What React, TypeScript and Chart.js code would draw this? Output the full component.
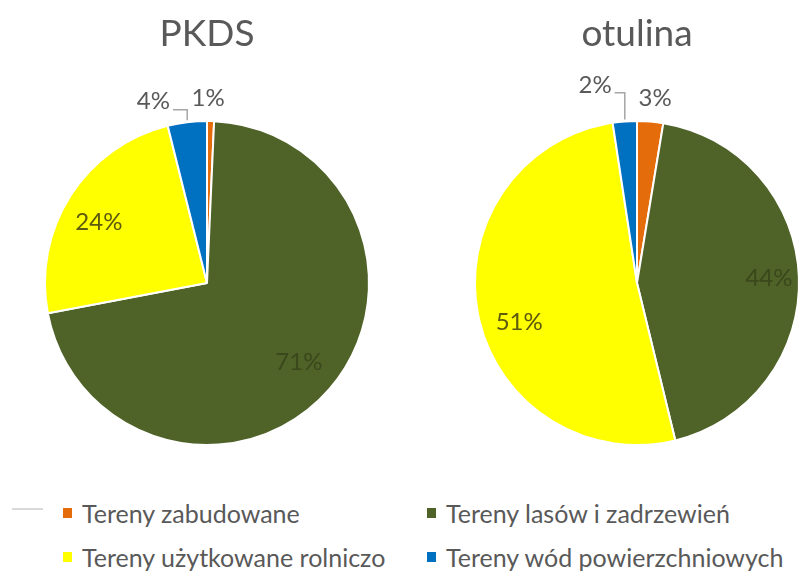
import React, { useEffect, useRef } from 'react';
import { Chart, registerables } from 'chart.js';
Chart.register(...registerables);

const categories = [
  'Tereny zabudowane',
  'Tereny lasów i zadrzewień',
  'Tereny użytkowane rolniczo',
  'Tereny wód powierzchniowych',
];
const pkdsValues = [0.7, 71.3, 24.1, 3.9];
const otulinaValues = [2.6, 43.6, 51.4, 2.4];
const sliceColors = ['#E46C0A', '#4F6228', '#FFFF00', '#0070C0'];
const titles = ['PKDS', 'otulina'];

const FONT = 'Lato, "Open Sans", sans-serif';
const GREY = '#595959';

type Place = { r: number; dx: number; dy: number; color: string; leader?: boolean };

const pkdsPlaces: Place[] = [
  { r: 1.14, dx: -3, dy: 0, color: GREY },
  { r: 0.75, dx: 0, dy: 0, color: '#3a481c' },
  { r: 0.77, dx: -3, dy: 6, color: '#5c5a0e' },
  { r: 1.14, dx: -31, dy: 2, color: GREY, leader: true },
];
const otulinaPlaces: Place[] = [
  { r: 1.14, dx: 3, dy: -1, color: GREY },
  { r: 0.815, dx: 0, dy: 0, color: '#3a481c' },
  { r: 0.76, dx: 3, dy: 15, color: '#5c5a0e' },
  { r: 1.14, dx: -28, dy: -14, color: GREY, leader: true },
];

const labelPlugin = {
  id: 'sliceLabels',
  afterDatasetsDraw(chart: any, _args: any, opts: any) {
    const places: Place[] = opts.places || [];
    const meta = chart.getDatasetMeta(0);
    const data = chart.data.datasets[0].data as number[];
    const ctx = chart.ctx as CanvasRenderingContext2D;
    meta.data.forEach((arc: any, i: number) => {
      const p = places[i];
      if (!p) return;
      const { x, y, startAngle, endAngle, outerRadius } = arc.getProps(
        ['x', 'y', 'startAngle', 'endAngle', 'outerRadius'],
        true
      );
      const mid = (startAngle + endAngle) / 2;
      const text = Math.round(data[i]) + '%';
      const lx = x + Math.cos(mid) * outerRadius * p.r + p.dx;
      const ly = y + Math.sin(mid) * outerRadius * p.r + p.dy;
      ctx.save();
      ctx.font = `24px ${FONT}`;
      ctx.fillStyle = p.color;
      ctx.textAlign = 'center';
      ctx.textBaseline = 'middle';
      ctx.fillText(text, lx, ly);
      if (p.leader) {
        const w = ctx.measureText(text).width;
        const ex = x + Math.cos(mid) * outerRadius;
        const ey = y + Math.sin(mid) * outerRadius;
        const sx = lx + w / 2 + 3;
        const sy = ly + 8;
        ctx.strokeStyle = '#a6a6a6';
        ctx.lineWidth = 1.5;
        ctx.beginPath();
        ctx.moveTo(sx, sy);
        ctx.lineTo(ex, sy);
        ctx.lineTo(ex, ey - 2);
        ctx.stroke();
      }
      ctx.restore();
    });
  },
};

function PieChart({ title, values, places, left }: { title: string; values: number[]; places: Place[]; left: number }) {
  const ref = useRef<HTMLCanvasElement>(null);
  useEffect(() => {
    if (!ref.current) return;
    const chart = new Chart(ref.current, {
      type: 'pie',
      data: {
        labels: categories,
        datasets: [
          {
            data: values,
            backgroundColor: sliceColors,
            borderColor: '#ffffff',
            borderWidth: 2,
          },
        ],
      },
      options: {
        responsive: false,
        animation: false,
        layout: { padding: { top: 0, bottom: 14, left: 44, right: 44 } },
        plugins: {
          legend: { display: false },
          tooltip: { enabled: false },
          title: {
            display: true,
            text: title,
            color: GREY,
            font: { family: FONT, size: 37, weight: 'normal' },
            padding: { top: 12, bottom: 63.6 },
          },
          sliceLabels: { places },
        } as any,
      },
      plugins: [labelPlugin],
    });
    return () => chart.destroy();
  }, []);
  return (
    <canvas
      ref={ref}
      width={414}
      height={460}
      style={{ position: 'absolute', left, top: 0, width: 414, height: 460 }}
    />
  );
}

const legendCols = [63, 427];
const legendRows = [513, 557];

export default function App() {
  return (
    <div
      style={{
        position: 'fixed',
        left: 0,
        top: 0,
        width: 802,
        height: 576,
        background: '#ffffff',
        overflow: 'hidden',
        fontFamily: FONT,
      }}
    >
      <PieChart title={titles[0]} values={pkdsValues} places={pkdsPlaces} left={0} />
      <PieChart title={titles[1]} values={otulinaValues} places={otulinaPlaces} left={430} />
      <div style={{ position: 'absolute', left: 12, top: 508, width: 31, height: 2, background: '#d9d9d9' }} />
      {categories.map((c, i) => {
        const x = legendCols[i % 2];
        const y = legendRows[Math.floor(i / 2)];
        return (
          <React.Fragment key={c}>
            <div
              style={{
                position: 'absolute',
                left: x,
                top: y - 5,
                width: 9,
                height: 10,
                background: sliceColors[i],
              }}
            />
            <div
              style={{
                position: 'absolute',
                left: x + 19,
                top: y - 16,
                height: 32,
                lineHeight: '32px',
                fontSize: 25,
                color: GREY,
                whiteSpace: 'nowrap',
              }}
            >
              {c}
            </div>
          </React.Fragment>
        );
      })}
    </div>
  );
}
